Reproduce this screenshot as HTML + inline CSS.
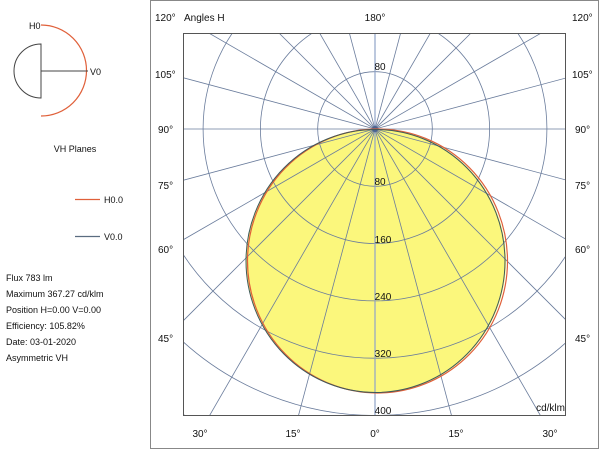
<!DOCTYPE html>
<html><head><meta charset="utf-8"><style>
html,body{margin:0;padding:0;background:#fff;width:600px;height:450px;overflow:hidden;}
svg{display:block;font-family:"Liberation Sans",Arial,sans-serif;}
</style></head><body>
<svg width="600" height="450" viewBox="0 0 600 450">
<rect x="0" y="0" width="600" height="450" fill="#fff"/>
<rect x="150.5" y="0.5" width="448" height="448" fill="none" stroke="#888" stroke-width="1"/>
<defs><clipPath id="c"><rect x="183" y="33" width="383" height="383"/></clipPath></defs>
<ellipse cx="376" cy="261" rx="130" ry="132" fill="#fbf77c"/>
<g clip-path="url(#c)" stroke="#6a7c9c" stroke-width="0.8" fill="none">
<circle cx="375" cy="129" r="57.3"/>
<circle cx="375" cy="129" r="114.6"/>
<circle cx="375" cy="129" r="171.9"/>
<circle cx="375" cy="129" r="229.2"/>
<circle cx="375" cy="129" r="286.5"/>
<circle cx="375" cy="129" r="343.8"/>
<line x1="246" y1="-354" x2="504" y2="612"/>
<line x1="125" y1="-304" x2="625" y2="562"/>
<line x1="21" y1="-225" x2="729" y2="483"/>
<line x1="-58" y1="-121" x2="808" y2="379"/>
<line x1="-108" y1="0" x2="858" y2="258"/>
<line x1="-125" y1="129" x2="875" y2="129"/>
<line x1="-108" y1="258" x2="858" y2="0"/>
<line x1="-58" y1="379" x2="808" y2="-121"/>
<line x1="21" y1="483" x2="729" y2="-225"/>
<line x1="125" y1="562" x2="625" y2="-304"/>
<line x1="246" y1="612" x2="504" y2="-354"/>
<line x1="375" y1="-371" x2="375" y2="629" stroke="#8fa3c8" stroke-width="1.2"/>
</g>
<rect x="183.5" y="33.5" width="382" height="382" fill="none" stroke="#555" stroke-width="1"/>
<circle cx="375" cy="129" r="3" fill="#4a6390"/>
<ellipse cx="377.5" cy="261" rx="130" ry="132" fill="none" stroke="#e0603a" stroke-width="1.2"/>
<ellipse cx="375.5" cy="261" rx="129.5" ry="131.5" fill="none" stroke="#3e5a5a" stroke-width="1"/>
<g font-size="10" fill="#111" text-anchor="middle">
<text x="380" y="70">80</text>
<text x="380" y="185">80</text>
<text x="383" y="243">160</text>
<text x="383" y="300">240</text>
<text x="383" y="357">320</text>
<text x="383" y="414">400</text>
</g>
<text x="565" y="411" font-size="10" text-anchor="end" fill="#111">cd/klm</text>
<g font-size="10" fill="#111">
<text x="155" y="21">120°</text>
<text x="184" y="21">Angles H</text>
<text x="375" y="21" text-anchor="middle">180°</text>
<text x="572" y="21">120°</text>
<text x="155" y="78">105°</text><text x="572" y="78">105°</text>
<text x="158" y="133">90°</text><text x="575" y="133">90°</text>
<text x="158" y="189">75°</text><text x="575" y="189">75°</text>
<text x="158" y="253">60°</text><text x="575" y="253">60°</text>
<text x="158" y="342">45°</text><text x="575" y="342">45°</text>
<text x="200" y="437" text-anchor="middle">30°</text>
<text x="293" y="437" text-anchor="middle">15°</text>
<text x="375" y="437" text-anchor="middle">0°</text>
<text x="456" y="437" text-anchor="middle">15°</text>
<text x="550" y="437" text-anchor="middle">30°</text>
</g>
<path d="M41 25 A45 45 0 0 1 41 116" fill="none" stroke="#e0603a" stroke-width="1.2"/>
<path d="M41 44 A27 27 0 0 0 41 98 Z" fill="none" stroke="#444" stroke-width="1"/>
<line x1="41" y1="71" x2="88" y2="71" stroke="#444" stroke-width="1"/>
<g font-size="9" fill="#111">
<text x="29" y="29">H0</text>
<text x="90" y="75">V0</text>
<text x="75" y="152" text-anchor="middle">VH Planes</text>
<text x="104" y="203">H0.0</text>
<text x="104" y="240">V0.0</text>
<text x="6" y="281">Flux 783  lm</text>
<text x="6" y="297">Maximum 367.27  cd/klm</text>
<text x="6" y="313">Position H=0.00 V=0.00</text>
<text x="6" y="329">Efficiency: 105.82%</text>
<text x="6" y="345">Date: 03-01-2020</text>
<text x="6" y="361">Asymmetric VH</text>
</g>
<line x1="75" y1="199.5" x2="100" y2="199.5" stroke="#e0603a" stroke-width="1.2"/>
<line x1="75" y1="236.5" x2="100" y2="236.5" stroke="#5a6c80" stroke-width="1.2"/>
</svg>
</body></html>
